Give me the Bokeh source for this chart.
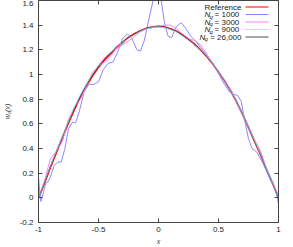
from bokeh.plotting import figure
from bokeh.models import FixedTicker, LinearAxis, Label, BoxAnnotation, Range1d, CustomJSTickFormatter
from bokeh.embed import file_html
from bokeh.resources import INLINE

# ---------------- data ----------------
x_grid = [-1.00, -0.95, -0.90, -0.85, -0.80, -0.75, -0.70, -0.65, -0.60, -0.55, -0.50,
          -0.45, -0.40, -0.35, -0.30, -0.25, -0.20, -0.15, -0.10, -0.05, 0.00,
          0.05, 0.10, 0.15, 0.20, 0.25, 0.30, 0.35, 0.40, 0.45, 0.50,
          0.55, 0.60, 0.65, 0.70, 0.75, 0.80, 0.85, 0.90, 0.95, 1.00]

ref_y = [0.00, 0.12, 0.25, 0.37, 0.49, 0.61, 0.72, 0.82, 0.91, 0.99, 1.06,
         1.12, 1.17, 1.22, 1.26, 1.30, 1.33, 1.355, 1.375, 1.385, 1.39,
         1.385, 1.37, 1.35, 1.32, 1.285, 1.245, 1.20, 1.15, 1.09, 1.02,
         0.95, 0.87, 0.78, 0.68, 0.57, 0.46, 0.35, 0.23, 0.12, 0.00]

nq3000_y = [0.00, 0.14, 0.32, 0.38, 0.46, 0.64, 0.74, 0.80, 0.91, 1.02, 1.07,
            1.10, 1.15, 1.21, 1.24, 1.27, 1.31, 1.345, 1.37, 1.385, 1.39,
            1.40, 1.40, 1.37, 1.33, 1.29, 1.275, 1.24, 1.17, 1.09, 1.01,
            0.94, 0.86, 0.77, 0.67, 0.56, 0.47, 0.38, 0.24, 0.13, 0.02]

nq9000_y = [0.00, 0.13, 0.26, 0.38, 0.50, 0.62, 0.74, 0.84, 0.93, 1.01, 1.08,
            1.14, 1.18, 1.22, 1.26, 1.29, 1.32, 1.35, 1.37, 1.38, 1.385,
            1.38, 1.365, 1.345, 1.31, 1.275, 1.24, 1.20, 1.155, 1.095, 1.03,
            0.955, 0.875, 0.785, 0.685, 0.575, 0.465, 0.35, 0.235, 0.12, 0.00]

nq26000_y = [0.00, 0.125, 0.255, 0.375, 0.495, 0.615, 0.725, 0.825, 0.915, 0.995, 1.065,
             1.125, 1.175, 1.22, 1.26, 1.30, 1.33, 1.355, 1.375, 1.385, 1.39,
             1.385, 1.37, 1.35, 1.32, 1.285, 1.245, 1.20, 1.15, 1.09, 1.02,
             0.95, 0.87, 0.78, 0.68, 0.57, 0.46, 0.35, 0.23, 0.12, 0.00]

nq1000_x = [-1.00, -0.99, -0.98, -0.96, -0.94, -0.92, -0.90, -0.87, -0.84, -0.81,
            -0.78, -0.75, -0.72, -0.69, -0.66, -0.62, -0.58, -0.54, -0.50, -0.46,
            -0.42, -0.38, -0.34, -0.30, -0.26, -0.22, -0.18, -0.15, -0.12, -0.08,
            -0.04, -0.01, 0.02, 0.05, 0.08, 0.11, 0.15, 0.19, 0.23, 0.27,
            0.31, 0.35, 0.39, 0.43, 0.47, 0.51, 0.55, 0.59, 0.62, 0.66,
            0.69, 0.72, 0.75, 0.78, 0.82, 0.86, 0.90, 0.93, 0.96, 0.98, 1.00]
nq1000_y = [0.17, 0.05, -0.03, 0.04, 0.12, 0.13, 0.17, 0.26, 0.29, 0.29,
            0.40, 0.56, 0.61, 0.61, 0.70, 0.86, 0.92, 0.92, 0.94, 1.04,
            1.09, 1.10, 1.18, 1.29, 1.33, 1.29, 1.20, 1.19, 1.27, 1.45,
            1.62, 1.70, 1.62, 1.42, 1.31, 1.30, 1.39, 1.42, 1.37, 1.31,
            1.27, 1.22, 1.17, 1.12, 1.06, 0.99, 0.92, 0.86, 0.84, 0.83,
            0.78, 0.62, 0.48, 0.40, 0.37, 0.30, 0.22, 0.15, 0.10, 0.05, -0.05]

x_ticks = [-1, -0.5, 0, 0.5, 1]
x_tick_labels = ["-1", "-0.5", "0", "0.5", "1"]
y_ticks = [-0.2, 0, 0.2, 0.4, 0.6, 0.8, 1, 1.2, 1.4, 1.6]
y_tick_labels = ["-0.2", "0", "0.2", "0.4", "0.6", "0.8", "1", "1.2", "1.4", "1.6"]

legend_names = ["Reference", "1000", "3000", "9000", "26,000"]
series_colors = ["#ff0000", "#8888ff", "#ff80ff", "#80ffff", "#505050"]

# ---------------- figure ----------------
FONT = "Liberation Sans"
p = figure(frame_width=240, frame_height=222, output_backend="svg",
           toolbar_location=None, x_range=Range1d(-1, 1), y_range=Range1d(-0.2, 1.6),
           min_border_left=34, min_border_right=10, min_border_top=0, min_border_bottom=10)
p.grid.visible = False
p.outline_line_color = None
p.background_fill_color = "white"
p.border_fill_color = "white"

x_over = {t: l for t, l in zip(x_ticks, x_tick_labels)}
y_over = {t: l for t, l in zip(y_ticks, y_tick_labels)}

def style_axis(ax, show_labels):
    ax.axis_line_color = "#444444"
    ax.axis_line_width = 1
    ax.major_tick_line_color = "#444444"
    ax.major_tick_in = 4
    ax.major_tick_out = 0
    ax.minor_tick_line_color = None
    ax.major_label_text_font = FONT
    ax.major_label_text_color = "#222222"
    ax.major_label_text_font_size = "8px"
    if not show_labels:
        ax.formatter = CustomJSTickFormatter(code="return '';")
        ax.major_label_standoff = 0

xa = p.xaxis[0]
xa.ticker = FixedTicker(ticks=x_ticks)
xa.major_label_overrides = x_over
style_axis(xa, True)
xa.major_label_standoff = 4
xa.axis_label = "x"
xa.axis_label_text_font = FONT
xa.axis_label_text_font_style = "italic"
xa.axis_label_text_font_size = "7px"
xa.axis_label_standoff = 3

ya = p.yaxis[0]
ya.ticker = FixedTicker(ticks=y_ticks)
ya.major_label_overrides = y_over
style_axis(ya, True)
ya.major_label_standoff = 5
ya.axis_label = "w\u2081(x)"
ya.axis_label_text_font = FONT
ya.axis_label_text_font_style = "italic"
ya.axis_label_text_font_size = "7px"
ya.axis_label_standoff = 6

ra = LinearAxis(ticker=FixedTicker(ticks=y_ticks))
style_axis(ra, False)
p.add_layout(ra, "right")
ta = LinearAxis(ticker=FixedTicker(ticks=x_ticks))
style_axis(ta, False)
p.add_layout(ta, "above")

# ---------------- curves ----------------
p.line(x_grid, ref_y, line_color=series_colors[0], line_width=1.8)
p.line(nq1000_x, nq1000_y, line_color=series_colors[1], line_width=1)
p.line(x_grid, nq3000_y, line_color=series_colors[2], line_width=1)
p.line(x_grid, nq9000_y, line_color=series_colors[3], line_width=1)
p.line(x_grid, nq26000_y, line_color=series_colors[4], line_width=0.8, line_alpha=0.8)

# ---------------- legend (text left, sample right, gnuplot style) ----------------
row_y0 = 215.5
row_dy = 7.5
text_right = 203
for i, name in enumerate(legend_names):
    yy = row_y0 - i * row_dy
    if i == 0:
        p.add_layout(Label(x=text_right, y=yy, x_units="screen", y_units="screen",
                           text=name, text_align="right", text_baseline="middle",
                           text_font=FONT, text_font_size="8px", text_color="#222222"))
    else:
        val = ("=  " + name) if len(name) < 5 else ("= " + name)
        p.add_layout(Label(x=text_right, y=yy, x_units="screen", y_units="screen",
                           text=val, text_align="right", text_baseline="middle",
                           text_font=FONT, text_font_size="8px", text_color="#222222"))
        nx = 166 if len(name) < 5 else 161
        p.add_layout(Label(x=nx, y=yy, x_units="screen", y_units="screen",
                           text="N", text_align="left", text_baseline="middle",
                           text_font=FONT, text_font_style="italic",
                           text_font_size="8px", text_color="#222222"))
        p.add_layout(Label(x=nx + 5, y=yy - 2, x_units="screen", y_units="screen",
                           text="q", text_align="left", text_baseline="middle",
                           text_font=FONT, text_font_style="italic",
                           text_font_size="6px", text_color="#222222"))
    p.add_layout(BoxAnnotation(left=207, right=230, bottom=yy - 0.6, top=yy + 0.6,
                               left_units="screen", right_units="screen",
                               bottom_units="screen", top_units="screen",
                               fill_color=series_colors[i], fill_alpha=1.0,
                               line_color=None))

open("out.html", "w").write(file_html(p, INLINE))
